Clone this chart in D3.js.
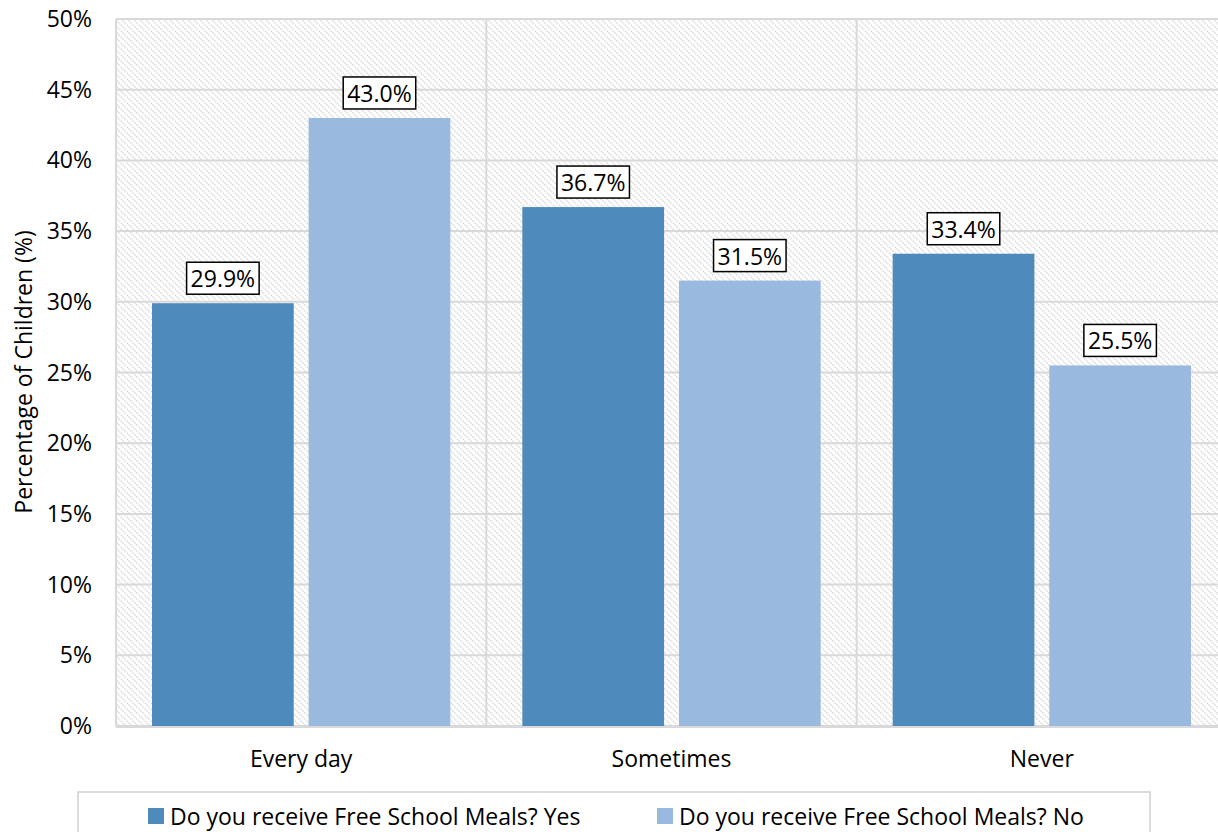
<!DOCTYPE html>
<html><head><meta charset="utf-8">
<script src="https://cdn.jsdelivr.net/npm/d3@7"></script>
<style>body{margin:0;background:#fff}svg{display:block}text{font-family:"Open Sans",sans-serif;fill:#000}</style>
</head><body><svg id="c" width="1218" height="832"></svg>
<script>
const categories = ["Every day", "Sometimes", "Never"];
const seriesNames = ["Do you receive Free School Meals? Yes", "Do you receive Free School Meals? No"];
const yesValues = [29.9, 36.7, 33.4];
const noValues = [43.0, 31.5, 25.5];
const yTicks = [0, 5, 10, 15, 20, 25, 30, 35, 40, 45, 50];
const colors = ["#4f8abd", "#99b9de"];
const FS = 23;

const svg = d3.select("#c");
const m = {l:116, t:19, r:1227, b:726};
const x = d3.scaleBand().domain(categories).range([m.l, m.r]).paddingInner(0).paddingOuter(0);
const y = d3.scaleLinear().domain([0, 50]).range([m.b, m.t]);
const x1 = d3.scaleBand().domain([0,1]).range([36, x.bandwidth()-36]).paddingInner(0.095).paddingOuter(0);

const defs = svg.append("defs");
const pat = defs.append("pattern").attr("id","hatch").attr("patternUnits","userSpaceOnUse")
  .attr("width",6).attr("height",6);
pat.append("rect").attr("width",6).attr("height",6).attr("fill","#fff");
pat.append("path").attr("d","M-1,-1 L7,7 M-1,5 L1,7 M5,-1 L7,1").attr("stroke","#dcdcdc").attr("stroke-width",1.6).attr("stroke-dasharray","1.5,1");

svg.append("rect").attr("x",m.l).attr("y",m.t).attr("width",m.r-m.l).attr("height",m.b-m.t).attr("fill","url(#hatch)");

// gridlines
svg.append("g").selectAll("line").data(yTicks).join("line")
  .attr("x1",m.l).attr("x2",m.r).attr("y1",d=>y(d)).attr("y2",d=>y(d))
  .attr("stroke","#d9d9d9").attr("stroke-width",2);
const vlines = [m.l].concat(categories.slice(1).map(c=>x(c)));
svg.append("g").selectAll("line").data(vlines).join("line")
  .attr("x1",d=>d).attr("x2",d=>d).attr("y1",m.t).attr("y2",m.b)
  .attr("stroke","#d9d9d9").attr("stroke-width",2);

// bars
const data = categories.map((c,i)=>({c, vals:[yesValues[i], noValues[i]]}));
const g = svg.append("g");
data.forEach(d=>{
  d.vals.forEach((v,j)=>{
    g.append("rect").attr("x",x(d.c)+x1(j)).attr("y",y(v)).attr("width",x1.bandwidth()).attr("height",y(0)-y(v)).attr("fill",colors[j]);
  });
});
// bottom axis line
svg.append("line").attr("x1",m.l).attr("x2",m.r).attr("y1",m.b+1).attr("y2",m.b+1).attr("stroke","#d9d9d9").attr("stroke-width",2);

// labels
data.forEach(d=>{
  d.vals.forEach((v,j)=>{
    const cx = x(d.c)+x1(j)+x1.bandwidth()/2;
    const t = svg.append("text").attr("x",cx).attr("y",y(v)-16).attr("text-anchor","middle")
      .attr("font-size",FS).text(v.toFixed(1)+"%");
    const bb = t.node().getBBox();
    svg.insert("rect", () => t.node()).attr("x",bb.x-4).attr("y",y(v)-41).attr("width",bb.width+8).attr("height",32)
      .attr("fill","#fff").attr("stroke","#000").attr("stroke-width",1.5);
  });
});

// y tick labels
svg.append("g").selectAll("text").data(yTicks).join("text")
  .attr("x",92).attr("y",d=>y(d)+8).attr("text-anchor","end").attr("font-size",FS).text(d=>d+"%");
// x labels
svg.append("g").selectAll("text").data(categories).join("text")
  .attr("x",d=>x(d)+x.bandwidth()/2).attr("y",767).attr("text-anchor","middle").attr("font-size",FS).text(d=>d);
// y title
svg.append("text").attr("transform","translate(32,372) rotate(-90)").attr("text-anchor","middle").attr("font-size",FS).text("Percentage of Children (%)");

// legend
svg.append("rect").attr("x",78).attr("y",792).attr("width",1072).attr("height",60).attr("fill","#fff").attr("stroke","#d0d0d0").attr("stroke-width",1.5);
const lx = [148, 657];
seriesNames.forEach((s,i)=>{
  svg.append("rect").attr("x",lx[i]).attr("y",808).attr("width",16).attr("height",16).attr("fill",colors[i]);
  svg.append("text").attr("x",lx[i]+22).attr("y",825).attr("font-size",FS).text(s);
});
</script></body></html>
